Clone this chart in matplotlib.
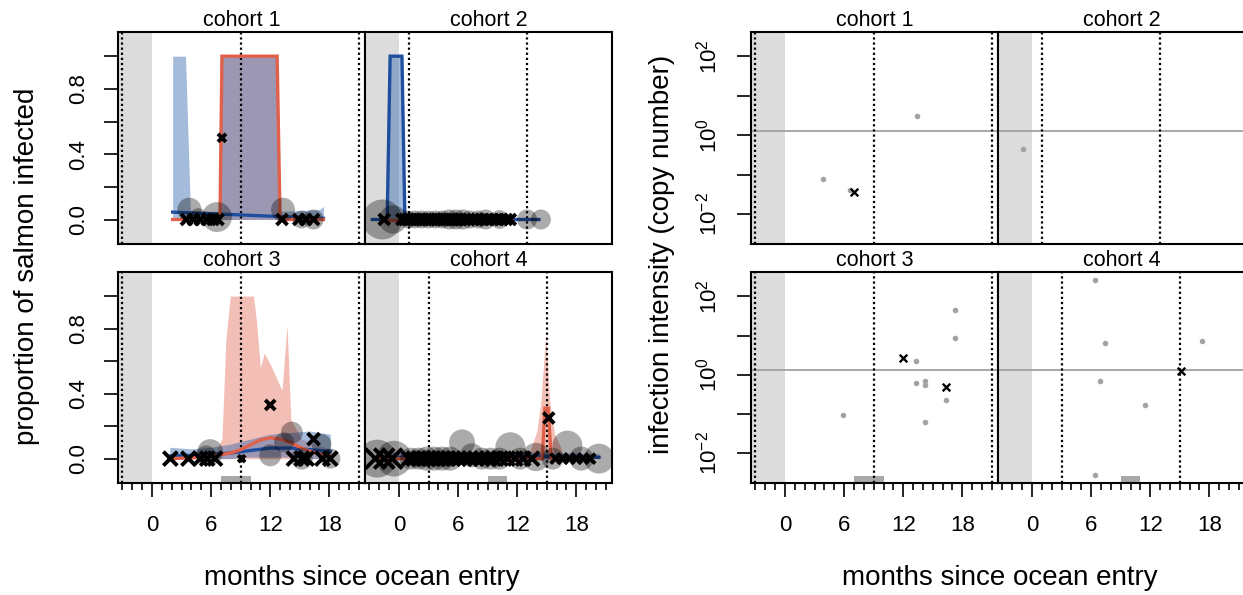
import matplotlib
matplotlib.use("Agg")
import matplotlib.pyplot as plt
from matplotlib.ticker import NullLocator
from matplotlib.transforms import blended_transform_factory

plt.rcParams['font.family'] = ['Liberation Sans', 'DejaVu Sans']
plt.rcParams['mathtext.fontset'] = 'custom'
plt.rcParams['mathtext.rm'] = 'Liberation Sans'
plt.rcParams['mathtext.it'] = 'Liberation Sans'

W, H = 1243, 595

# ------------------------------------------------------------------ data
titles = ["cohort 1", "cohort 2", "cohort 3", "cohort 4"]
x_major = [0, 6, 12, 18]
x_minor = list(range(-3, 22))
xlim = (-3.45, 21.62)
vlines_c1 = [-3, 9, 21]
vlines_c2 = [1, 13]
vlines_c3 = [-3, 9, 21]
vlines_c4 = [3, 15]
bar_c3 = [7.0, 10.0]
bar_c4 = [9.0, 11.0]

# cohort 1 – proportion infected
c1_blue_rx = [2.1, 3.4, 3.9, 6.9, 7.1, 12.7, 13.0, 17.0, 17.4]
c1_blue_lo = [0, 0, 0, 0, 0, 0, 0, 0, 0]
c1_blue_hi = [1.0, 1.0, 0.05, 0.05, 1.0, 1.0, 0.05, 0.06, 0.08]
c1_blue_x = [2.1, 7.0, 13.0, 17.4]
c1_blue_y = [0.045, 0.033, 0.018, 0.007]
c1_red_rx = [2.1, 6.9, 7.1, 12.7, 13.0, 17.4]
c1_red_lo = [0, 0, 0, 0, 0, 0]
c1_red_hi = [0.01, 0.01, 1.0, 1.0, 0.01, 0.01]
c1_red_x = [2.1, 6.9, 7.1, 12.7, 13.0, 17.4]
c1_red_y = [0, 0, 1.0, 1.0, 0, 0]
c1_pts_x = [3.8, 4.7, 6.6, 13.3, 15.2, 16.4]
c1_pts_y = [0.06, 0.02, 0.015, 0.06, 0.0, 0.0]
c1_pts_n = [36, 16, 56, 36, 20, 25]
c1_obs_x = [3.5, 4.2, 4.9, 5.6, 6.2, 6.7, 7.1, 13.2, 14.9, 15.6, 16.4]
c1_obs_y = [0, 0, 0, 0, 0, 0, 0.5, 0, 0, 0, 0]
c1_obs_n = [30, 30, 30, 30, 30, 30, 16, 30, 30, 30, 30]

# cohort 2
c2_blue_rx = [-2.7, -1.2, -0.9, 0.3, 0.6, 14.2]
c2_blue_lo = [0, 0, 0, 0, 0, 0]
c2_blue_hi = [0.005, 0.005, 1.0, 1.0, 0.005, 0.005]
c2_blue_x = [-2.7, -1.2, -0.9, 0.3, 0.6, 14.2]
c2_blue_y = [0, 0, 1.0, 1.0, 0, 0]
c2_red_rx = [-1.2, 11.5]
c2_red_lo = [0, 0]
c2_red_hi = [0.005, 0.005]
c2_red_x = [-1.2, 11.5]
c2_red_y = [0, 0]
c2_pts_x = [-1.7, -0.6, 0.9, 1.6, 2.3, 3.0, 3.7, 4.4, 5.1, 5.8, 6.5, 7.2,
            8.0, 8.8, 10.2, 13.0, 14.4]
c2_pts_y = [0] * 17
c2_pts_n = [100, 50, 20, 20, 20, 20, 20, 20, 25, 25, 25, 20, 20, 25, 22, 25, 25]
c2_obs_x = [-1.5, 0.3, 0.6, 0.9, 1.2, 1.5, 1.8, 2.1, 2.4, 2.7, 3.0, 3.3, 3.6,
            3.9, 4.2, 4.5, 4.8, 5.1, 5.4, 5.7, 6.0, 6.3, 6.7, 7.1, 7.5, 7.9,
            8.4, 8.9, 9.4, 9.9, 10.4, 10.9, 11.3]
c2_obs_y = [0] * 33
c2_obs_n = [30] * 33

# cohort 3
c3_blue_rx = [1.8, 4, 6, 8, 10, 12, 14, 16, 18.1]
c3_blue_lo = [0, 0, 0, 0, 0.01, 0.01, 0.01, 0, 0]
c3_blue_hi = [0.07, 0.06, 0.07, 0.09, 0.12, 0.15, 0.16, 0.17, 0.15]
c3_blue_x = [1.8, 4, 6, 8, 10, 12, 14, 16, 18.1]
c3_blue_y = [0.016, 0.02, 0.025, 0.035, 0.05, 0.065, 0.065, 0.055, 0.045]
c3_red_rx = [1.8, 4.0, 6.5, 7.1, 7.5, 7.95, 10.3, 10.6, 11.0, 11.4, 12.0,
             12.6, 13.2, 13.7, 14.1, 15.2, 17.0, 18.1]
c3_red_lo = [0] * 18
c3_red_hi = [0.03, 0.03, 0.05, 0.12, 0.73, 1.0, 1.0, 0.85, 0.56, 0.65, 0.58,
             0.5, 0.42, 0.82, 0.24, 0.12, 0.08, 0.06]
c3_red_x = [1.8, 4, 6, 8, 9, 10, 11, 12, 13, 14, 15, 16, 17, 18.1]
c3_red_y = [0.0, 0.005, 0.015, 0.035, 0.055, 0.085, 0.115, 0.128, 0.12, 0.1,
            0.07, 0.045, 0.028, 0.016]
c3_pts_x = [5.5, 5.9, 12.0, 13.4, 14.2, 15.2, 17.2, 18.1]
c3_pts_y = [0.02, 0.04, 0.02, 0.1, 0.16, 0.0, 0.09, 0.0]
c3_pts_n = [25, 42, 30, 25, 30, 30, 25, 25]
c3_obs_x = [1.86, 3.7, 4.9, 5.6, 6.4, 9.1, 12.0, 14.4, 15.2, 15.7, 16.4, 17.3, 18.1]
c3_obs_y = [0, 0, 0, 0, 0, 0, 0.33, 0, 0, 0, 0.12, 0, 0]
c3_obs_n = [49, 49, 49, 49, 49, 12, 25, 49, 49, 49, 36, 49, 49]

# cohort 4
c4_blue_rx = [-2.0, 2.0, 6.0, 10.0, 14.0, 17.0, 20.3]
c4_blue_lo = [0, 0, 0, 0, 0, 0, 0]
c4_blue_hi = [0.03, 0.035, 0.045, 0.045, 0.04, 0.035, 0.03]
c4_blue_x = [-2.0, 2.0, 6.0, 10.0, 14.0, 17.0, 20.3]
c4_blue_y = [0.005, 0.012, 0.02, 0.02, 0.015, 0.01, 0.008]
c4_red_rx = [13.0, 13.5, 14.0, 14.4, 14.9, 15.3, 15.8, 16.4, 16.8]
c4_red_lo = [0] * 9
c4_red_hi = [0.0, 0.08, 0.17, 0.35, 0.77, 0.35, 0.15, 0.07, 0.0]
c4_red_x = [-2.0, 14.55, 14.8, 15.15, 15.45, 19.3]
c4_red_y = [0, 0, 0.31, 0.31, 0, 0]
c4_pts_x = [-2.2, -0.5, 1.2, 2.0, 2.8, 3.6, 4.4, 5.2, 6.4, 7.4, 8.4, 9.3,
            10.2, 11.3, 12.3, 13.9, 15.6, 17.1, 18.5, 20.3]
c4_pts_y = [0, 0, 0, 0, 0, 0, 0, 0, 0.1, 0.02, 0, 0, 0, 0.07, 0, 0.01, 0,
            0.08, 0, 0]
c4_pts_n = [90, 80, 30, 30, 36, 36, 36, 36, 42, 36, 30, 30, 30, 56, 30, 50,
            30, 56, 36, 56]
c4_obs_x = [-2.4, -1.5, -0.7, 1.0, 1.5, 2.0, 2.5, 3.0, 3.5, 4.0, 4.5, 5.0,
            5.5, 6.0, 6.6, 7.2, 7.8, 8.4, 9.0, 9.6, 10.3, 11.0, 11.8, 12.6,
            13.5, 15.2, 15.9, 16.6, 17.3, 18.0, 18.7, 19.4]
c4_obs_y = [0] * 25 + [0.25] + [0] * 6
c4_obs_n = [100, 100, 100] + [49] * 22 + [30] + [25] * 6

# infection intensity (copy number)
line_level = 1.3
ylim_log = (0.00174, 417.0)
r1_pts_x = [3.9, 6.6, 13.4]
r1_pts_y = [0.076, 0.041, 3.1]
r1_obs_x = [7.0]
r1_obs_y = [0.0355]
r2_pts_x = [-0.95]
r2_pts_y = [0.44]
r2_obs_x = []
r2_obs_y = []
r3_pts_x = [5.93, 13.3, 13.3, 14.2, 14.2, 14.2, 16.35, 17.3, 17.3]
r3_pts_y = [0.093, 2.29, 0.62, 0.71, 0.56, 0.063, 0.234, 43.6, 8.9]
r3_obs_x = [11.95, 16.35]
r3_obs_y = [2.69, 0.50]
r4_pts_x = [6.43, 7.37, 6.86, 11.5, 6.43, 17.3]
r4_pts_y = [263.0, 6.46, 0.71, 0.174, 0.00275, 7.08]
r4_obs_x = [15.16]
r4_obs_y = [1.26]

# ------------------------------------------------------------------ style
BLUE = '#1F4E9E'
RED = '#E0604A'
BLUE_RIB = '#356AB1'
RED_RIB = '#E0644F'
SHADE = '#DCDCDC'
DOT = (0, (1.0, 1.3))

fig = plt.figure(figsize=(W / 100, H / 100), dpi=100)


def add_ax(x0, x1, ytop, ybot):
    return fig.add_axes([x0 / W, 1 - ybot / H, (x1 - x0) / W, (ybot - ytop) / H])


def common(ax, vlines, bottom, left, logy=False, bar=None):
    ax.set_xlim(*xlim)
    ax.axvspan(xlim[0], 0, color=SHADE, lw=0, zorder=0)
    for v in vlines:
        ax.axvline(v, color='k', ls=DOT, lw=1.6, zorder=4.5)
    for s in ax.spines.values():
        s.set_linewidth(1.5)
    if bar is not None:
        tr = blended_transform_factory(ax.transData, ax.transAxes)
        ax.fill_between(bar, [0, 0], [0.033, 0.033], transform=tr,
                        color='#A8A8A8', lw=0, zorder=1)
    if bottom:
        ax.set_xticks(x_major)
        ax.set_xticklabels([str(v) for v in x_major], fontsize=16)
        ax.set_xticks(x_minor, minor=True)
        ax.tick_params(axis='x', which='major', direction='out', length=10,
                       width=1.2, pad=13)
        ax.tick_params(axis='x', which='minor', direction='out', length=5,
                       width=1.2)
    else:
        ax.set_xticks([])
        ax.set_xticks([], minor=True)
    if left:
        ax.tick_params(axis='y', which='major', direction='out', length=10,
                       width=1.2, pad=11)
    else:
        ax.set_yticks([])
    if logy:
        ax.yaxis.set_minor_locator(NullLocator())


def prop_panel(ax, title, rib_b, line_b, rib_r, line_r, pts, obs, vlines,
               bottom, left, bar=None):
    ax.set_ylim(-0.15, 1.148)
    ax.fill_between(rib_r[0], rib_r[1], rib_r[2], color=RED_RIB, alpha=0.42,
                    lw=0, zorder=2)
    ax.fill_between(rib_b[0], rib_b[1], rib_b[2], color=BLUE_RIB, alpha=0.45,
                    lw=0, zorder=3)
    ax.plot(line_b[0], line_b[1], color=BLUE, lw=2.4, zorder=5,
            solid_joinstyle='miter')
    ax.plot(line_r[0], line_r[1], color=RED, lw=2.4, zorder=5.2,
            solid_joinstyle='miter')
    ax.scatter(pts[0], pts[1], s=[8.29 * n for n in pts[2]], color='k',
               alpha=0.33, lw=0, zorder=6)
    ax.scatter(obs[0], obs[1], s=[2.07 * n for n in obs[2]], color='k',
               marker='x', lw=2.8, zorder=7)
    common(ax, vlines, bottom, left, bar=bar)
    if left:
        ax.set_yticks([0, 0.2, 0.4, 0.6, 0.8, 1.0])
        ax.set_yticklabels(['0.0', '', '0.4', '', '0.8', ''], rotation=90,
                           va='center', fontsize=16)
    ax.set_title(title, fontsize=15.5, pad=4)


def int_panel(ax, title, pts, obs, vlines, bottom, left, bar=None):
    ax.set_yscale('log')
    ax.set_ylim(*ylim_log)
    ax.axhline(line_level, color='#9A9A9A', lw=1.2, zorder=2)
    ax.scatter(pts[0], pts[1], s=16, color='#A3A3A3', lw=0, zorder=5)
    if len(obs[0]):
        ax.scatter(obs[0], obs[1], s=30, color='k', marker='x', lw=1.7,
                   zorder=6)
    common(ax, vlines, bottom, left, logy=True, bar=bar)
    if left:
        ax.set_yticks([1e-2, 1e-1, 1, 10, 100])
        ax.set_yticklabels([r'$10^{-2}$', '', r'$10^{0}$', '', r'$10^{2}$'],
                           rotation=90, va='center', fontsize=16)
        ax.yaxis.set_minor_locator(NullLocator())
    ax.set_title(title, fontsize=15.5, pad=4)


# left block
a1 = add_ax(118, 365, 32, 244)
a2 = add_ax(365, 612, 32, 244)
a3 = add_ax(118, 365, 272, 483)
a4 = add_ax(365, 612, 272, 483)
prop_panel(a1, titles[0], (c1_blue_rx, c1_blue_lo, c1_blue_hi), (c1_blue_x, c1_blue_y),
           (c1_red_rx, c1_red_lo, c1_red_hi), (c1_red_x, c1_red_y),
           (c1_pts_x, c1_pts_y, c1_pts_n), (c1_obs_x, c1_obs_y, c1_obs_n),
           vlines_c1, False, True)
prop_panel(a2, titles[1], (c2_blue_rx, c2_blue_lo, c2_blue_hi), (c2_blue_x, c2_blue_y),
           (c2_red_rx, c2_red_lo, c2_red_hi), (c2_red_x, c2_red_y),
           (c2_pts_x, c2_pts_y, c2_pts_n), (c2_obs_x, c2_obs_y, c2_obs_n),
           vlines_c2, False, False)
prop_panel(a3, titles[2], (c3_blue_rx, c3_blue_lo, c3_blue_hi), (c3_blue_x, c3_blue_y),
           (c3_red_rx, c3_red_lo, c3_red_hi), (c3_red_x, c3_red_y),
           (c3_pts_x, c3_pts_y, c3_pts_n), (c3_obs_x, c3_obs_y, c3_obs_n),
           vlines_c3, True, True, bar=bar_c3)
prop_panel(a4, titles[3], (c4_blue_rx, c4_blue_lo, c4_blue_hi), (c4_blue_x, c4_blue_y),
           (c4_red_rx, c4_red_lo, c4_red_hi), (c4_red_x, c4_red_y),
           (c4_pts_x, c4_pts_y, c4_pts_n), (c4_obs_x, c4_obs_y, c4_obs_n),
           vlines_c4, True, False, bar=bar_c4)

# right block
b1 = add_ax(751, 998, 32, 244)
b2 = add_ax(998, 1245, 32, 244)
b3 = add_ax(751, 998, 272, 483)
b4 = add_ax(998, 1245, 272, 483)
int_panel(b1, titles[0], (r1_pts_x, r1_pts_y), (r1_obs_x, r1_obs_y), vlines_c1, False, True)
int_panel(b2, titles[1], (r2_pts_x, r2_pts_y), (r2_obs_x, r2_obs_y), vlines_c2, False, False)
int_panel(b3, titles[2], (r3_pts_x, r3_pts_y), (r3_obs_x, r3_obs_y), vlines_c3, True, True,
          bar=bar_c3)
int_panel(b4, titles[3], (r4_pts_x, r4_pts_y), (r4_obs_x, r4_obs_y), vlines_c4, True, False,
          bar=bar_c4)

fig.text(27 / W, 1 - 266 / H, 'proportion of salmon infected', rotation=90,
         ha='center', va='center', fontsize=20)
fig.text(662 / W, 1 - 254 / H, 'infection intensity (copy number)', rotation=90,
         ha='center', va='center', fontsize=20)
fig.text(362 / W, 1 - 578 / H, 'months since ocean entry', ha='center',
         va='center', fontsize=20)
fig.text(1000 / W, 1 - 578 / H, 'months since ocean entry', ha='center',
         va='center', fontsize=20)

fig.savefig('out.png', dpi=100)
